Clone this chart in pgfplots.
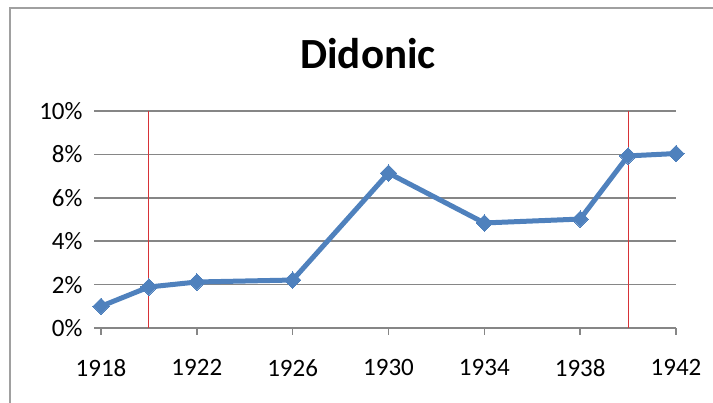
\documentclass[border=0pt]{standalone}
\usepackage{pgfplots}
\pgfplotsset{compat=1.18}
\usepackage{fontspec}
\setmainfont{Carlito}
\definecolor{lineblue}{RGB}{79,129,189}
\definecolor{gridgray}{RGB}{134,134,134}
\definecolor{framegray}{RGB}{160,160,160}
\definecolor{vred}{RGB}{215,50,55}
\begin{document}
\begin{tikzpicture}[x=1pt,y=1pt]
\useasboundingbox (0,0) rectangle (713,403);
\draw[framegray, line width=2pt] (10,-5) -- (10,395) -- (720,395);
\node[anchor=base, font=\bfseries\fontsize{43}{50}\selectfont] at (368,334) {Didonic};
\begin{axis}[
  at={(101pt,75pt)}, anchor=south west,
  scale only axis, width=575pt, height=217pt,
  xmin=1918, xmax=1942, ymin=0, ymax=10,
  xtick={1918,1922,...,1942}, ytick={0,2,...,10},
  axis x line*=bottom, axis y line*=left,
  y axis line style={draw=none},
  x axis line style={gridgray, line width=1.6pt, -},
  tick align=outside, major tick length=7pt,
  every tick/.style={gridgray, line width=1.6pt},
  ymajorgrids, grid style={gridgray, line width=1.6pt},
  /pgf/number format/assume math mode=true,
  /pgf/number format/1000 sep={},
  ticklabel style={font=\fontsize{25}{30}\selectfont},
  yticklabel={\pgfmathprintnumber{\tick}\%},
  yticklabel style={xshift=-8pt},
  xticklabel style={yshift=-21pt},
  clip=false,
]
\addplot[vred, line width=1pt, forget plot] coordinates {(1920,0) (1920,10)};
\addplot[vred, line width=1pt, forget plot] coordinates {(1940,0) (1940,10)};
\addplot[lineblue, line width=5pt, mark=square*, mark size=5.8pt,
  mark options={rotate=45, line width=0pt, fill=lineblue, draw=lineblue}]
  coordinates {(1918,1.0) (1920,1.89) (1922,2.12) (1926,2.21) (1930,7.14)
               (1934,4.84) (1938,5.02) (1940,7.93) (1942,8.04)};
\end{axis}
\end{tikzpicture}
\end{document}
